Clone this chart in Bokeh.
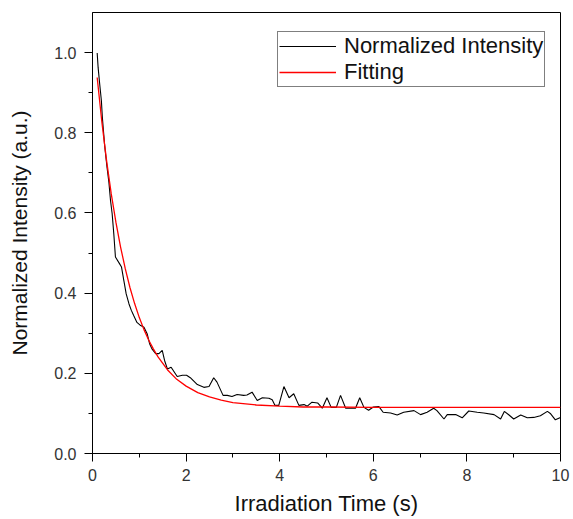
from bokeh.plotting import figure
from bokeh.models import Range1d, FixedTicker, NumeralTickFormatter, Legend, LegendItem
from bokeh.embed import file_html
from bokeh.resources import INLINE

data_t = [0.10, 0.12, 0.15, 0.19, 0.21, 0.26, 0.31, 0.35, 0.385, 0.42, 0.455, 0.49,
          0.58, 0.62, 0.67, 0.72, 0.78, 0.83, 0.88, 0.95, 1.03, 1.10, 1.17, 1.22,
          1.27, 1.35, 1.42, 1.49, 1.54, 1.60, 1.68, 1.81, 1.92, 2.01, 2.09, 2.24,
          2.38, 2.49, 2.59, 2.66, 2.79, 2.88, 2.98, 3.09, 3.23, 3.30, 3.41, 3.52,
          3.63, 3.77, 3.84, 3.90, 3.98, 4.09, 4.20, 4.30, 4.41, 4.52, 4.59, 4.69,
          4.81, 4.91, 5.01, 5.10, 5.21, 5.30, 5.41, 5.48, 5.62, 5.71, 5.80, 5.90,
          6.00, 6.12, 6.21, 6.37, 6.51, 6.65, 6.87, 7.01, 7.15, 7.29, 7.36, 7.51,
          7.58, 7.76, 7.90, 8.04, 8.22, 8.36, 8.58, 8.72, 8.80, 8.90, 9.00, 9.15,
          9.29, 9.43, 9.57, 9.72, 9.79, 9.89, 10.0]
data_v = [0.999, 0.963, 0.926, 0.880, 0.839, 0.768, 0.714, 0.677, 0.631, 0.598, 0.548, 0.490,
          0.473, 0.465, 0.431, 0.398, 0.373, 0.357, 0.344, 0.327, 0.319, 0.315, 0.298, 0.274,
          0.261, 0.249, 0.249, 0.257, 0.232, 0.211, 0.215, 0.192, 0.195, 0.195, 0.189, 0.172,
          0.165, 0.167, 0.189, 0.178, 0.145, 0.145, 0.142, 0.147, 0.145, 0.146, 0.153, 0.132,
          0.139, 0.138, 0.134, 0.120, 0.120, 0.167, 0.139, 0.149, 0.120, 0.122, 0.118, 0.128,
          0.126, 0.113, 0.139, 0.115, 0.115, 0.145, 0.113, 0.113, 0.113, 0.139, 0.115, 0.108,
          0.116, 0.117, 0.103, 0.101, 0.096, 0.103, 0.107, 0.097, 0.103, 0.113, 0.107, 0.086,
          0.097, 0.097, 0.089, 0.106, 0.103, 0.101, 0.097, 0.086, 0.105, 0.096, 0.086, 0.096,
          0.089, 0.090, 0.094, 0.105, 0.099, 0.084, 0.090]

# Fitting curve
fit_t = [0.1, 0.2, 0.3, 0.4, 0.5, 0.6, 0.7, 0.8, 0.9, 1.0, 1.1, 1.2, 1.3, 1.4, 1.6, 1.8,
         2.0, 2.25, 2.5, 2.75, 3.0, 3.5, 4.0, 4.5, 5.0, 6.0, 7.0, 8.0, 9.0, 10.0]
fit_v = [0.938, 0.827, 0.731, 0.648, 0.577, 0.515, 0.461, 0.414, 0.374, 0.339, 0.309, 0.283,
         0.261, 0.241, 0.209, 0.185, 0.168, 0.152, 0.141, 0.133, 0.127, 0.121, 0.118, 0.116,
         0.116, 0.115, 0.115, 0.115, 0.115, 0.115]

x_ticks = [0, 2, 4, 6, 8, 10]
x_minor = [1, 3, 5, 7, 9]
y_ticks = [0.0, 0.2, 0.4, 0.6, 0.8, 1.0]
y_minor = [0.1, 0.3, 0.5, 0.7, 0.9]

x_title = "Irradiation Time (s)"
y_title = "Normalized Intensity (a.u.)"
series_names = ["Normalized Intensity", "Fitting"]

TITLE_FONT = "Liberation Sans"
TICK_FONT = "Liberation Sans"

p = figure(width=572, height=518, output_backend="svg", toolbar_location=None,
           x_range=Range1d(0, 10), y_range=Range1d(0, 1.1),
           min_border_left=92, min_border_right=12, min_border_top=12, min_border_bottom=65)
p.background_fill_color = "white"
p.border_fill_color = "white"
p.outline_line_color = "black"
p.outline_line_width = 1
p.grid.visible = False

r_data = p.line(data_t, data_v, line_color="black", line_width=1.1)
r_fit = p.line(fit_t, fit_v, line_color="#ff0000", line_width=1.3)

p.xaxis.ticker = FixedTicker(ticks=x_ticks, minor_ticks=x_minor)
p.yaxis.ticker = FixedTicker(ticks=y_ticks, minor_ticks=y_minor)
p.yaxis.formatter = NumeralTickFormatter(format="0.0")

for ax in (p.xaxis, p.yaxis):
    ax.axis_line_color = "black"
    ax.major_tick_line_color = "black"
    ax.minor_tick_line_color = "black"
    ax.major_tick_in = 0
    ax.major_tick_out = 8
    ax.minor_tick_in = 0
    ax.minor_tick_out = 4
    ax.major_label_text_font = TICK_FONT
    ax.major_label_text_font_size = "16px"
    ax.major_label_text_color = "#333333"
    ax.axis_label_text_font = TITLE_FONT
    ax.axis_label_text_font_size = "21px"
    ax.axis_label_text_font_style = "normal"
    ax.axis_label_text_color = "#111111"

p.xaxis.axis_label = x_title
p.yaxis.axis_label = y_title
p.xaxis.axis_label_text_font_size = "22px"
p.xaxis.major_label_standoff = 7
p.yaxis.major_label_standoff = 8
p.xaxis.axis_label_standoff = 7
p.yaxis.axis_label_standoff = 20

legend = Legend(items=[LegendItem(label=series_names[0], renderers=[r_data]),
                       LegendItem(label=series_names[1], renderers=[r_fit])],
                location=(185, 366))
legend.border_line_color = "black"
legend.border_line_width = 1
legend.background_fill_color = "white"
legend.background_fill_alpha = 1
legend.label_text_font = TITLE_FONT
legend.label_text_font_size = "22px"
legend.label_text_color = "#111111"
legend.glyph_width = 57
legend.glyph_height = 20
legend.label_height = 20
legend.label_standoff = 8
legend.padding = 1
legend.spacing = 0
legend.margin = 0
p.add_layout(legend, "center")

open("out.html", "w").write(file_html(p, INLINE))
